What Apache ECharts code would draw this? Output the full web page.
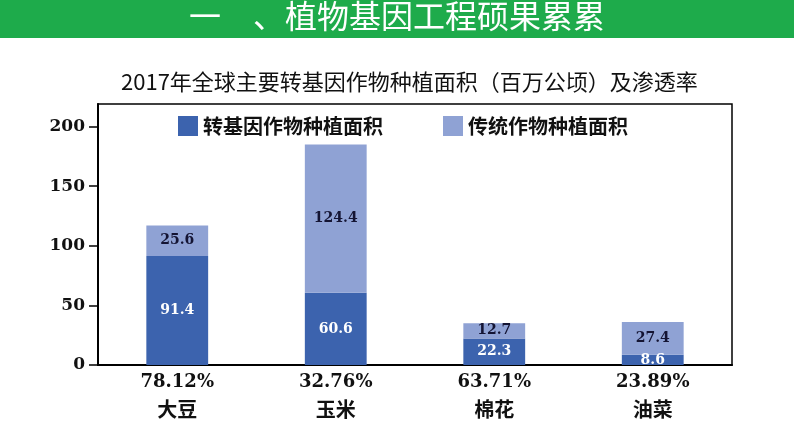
<!DOCTYPE html>
<html>
<head>
<meta charset="utf-8">
<script src="https://cdn.jsdelivr.net/npm/echarts@6/dist/echarts.min.js"></script>
<style>
  html, body { margin: 0; padding: 0; background: #fff; }
  #main { width: 794px; height: 447px; }
</style>
</head>
<body>
<div id="main"></div>
<script>
// 作物
var categories = ['大豆', '玉米', '棉花', '油菜']
// 渗透率
var rates = ['78.12%', '32.76%', '63.71%', '23.89%']
// 转基因作物种植面积（百万公顷）
var gmArea = [91.4, 60.6, 22.3, 8.6]
// 传统作物种植面积
var tradArea = [25.6, 124.4, 12.7, 27.4]
var yTicks = [0, 50, 100, 150, 200]

var serif = '"DejaVu Serif", "Liberation Serif", serif'
var cjk = '"Noto Sans CJK SC", sans-serif'

var myChart = echarts.init(document.getElementById('main'))
var option = {
  animation: false,
  graphic: [
    {
      type: 'rect',
      left: 0,
      top: 0,
      shape: { width: 794, height: 38 },
      style: { fill: '#1eab4b' }
    },
    {
      type: 'text',
      left: 'center',
      top: 0,
      style: {
        text: '一　、植物基因工程硕果累累',
        fill: '#fff',
        font: '32px ' + cjk
      }
    }
  ],
  title: {
    text: '2017年全球主要转基因作物种植面积（百万公顷）及渗透率',
    left: 116,
    top: 66,
    textStyle: {
      fontFamily: cjk,
      fontWeight: 'normal',
      fontSize: 22,
      color: '#111'
    }
  },
  legend: {
    left: 173,
    top: 111,
    itemWidth: 20,
    itemHeight: 20,
    itemGap: 60,
    icon: 'rect',
    textStyle: {
      fontFamily: cjk,
      fontWeight: 'bold',
      fontSize: 20,
      color: '#111'
    }
  },
  grid: {
    left: 98,
    right: 62,
    top: 104,
    bottom: 82,
    show: true,
    borderColor: '#000',
    borderWidth: 1.5
  },
  xAxis: {
    type: 'category',
    data: categories,
    axisLine: { lineStyle: { color: '#000', width: 2 } },
    axisTick: { show: false },
    axisLabel: {
      margin: 6,
      formatter: function (value, idx) {
        return '{p|' + rates[idx] + '}\n{c|' + value + '}'
      },
      rich: {
        p: {
          fontFamily: serif,
          fontWeight: 'bold',
          fontSize: 18,
          lineHeight: 22,
          color: '#111'
        },
        c: {
          fontFamily: cjk,
          fontWeight: 'bold',
          fontSize: 20,
          lineHeight: 32,
          color: '#111'
        }
      }
    }
  },
  yAxis: {
    type: 'value',
    min: 0,
    max: 219,
    interval: 50,
    splitLine: { show: false },
    axisLine: { show: true, lineStyle: { color: '#000', width: 2 } },
    axisTick: {
      show: true,
      length: 9,
      customValues: yTicks,
      lineStyle: { color: '#000', width: 1.5 }
    },
    axisLabel: {
      customValues: yTicks,
      margin: 13,
      fontFamily: serif,
      fontWeight: 'bold',
      fontSize: 17,
      color: '#111'
    }
  },
  series: [
    {
      name: '转基因作物种植面积',
      type: 'bar',
      stack: 'area',
      barWidth: '39%',
      data: gmArea,
      itemStyle: { color: '#3c63ae' },
      label: {
        show: true,
        position: 'inside',
        fontFamily: serif,
        fontWeight: 'bold',
        fontSize: 14,
        color: '#fff'
      }
    },
    {
      name: '传统作物种植面积',
      type: 'bar',
      stack: 'area',
      barWidth: '39%',
      data: tradArea,
      itemStyle: { color: '#8fa2d4' },
      label: {
        show: true,
        position: 'inside',
        fontFamily: serif,
        fontWeight: 'bold',
        fontSize: 14,
        color: '#141433'
      }
    }
  ]
}
myChart.setOption(option, true)
</script>
</body>
</html>
